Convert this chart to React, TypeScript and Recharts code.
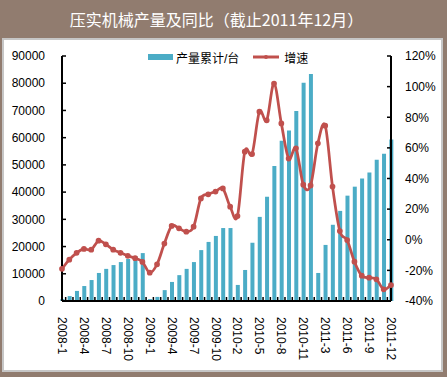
import { ComposedChart, Bar, Line, XAxis, YAxis } from "recharts"

const FONT = "'Liberation Sans', 'Noto Sans CJK SC', sans-serif"
const BAR_COLOR = "#4BACC6"
const LINE_COLOR = "#C0504D"

// 2010-1 and 2011-1 are merged into Feb in the source data
const months = [
  "2008-1", "2008-2", "2008-3", "2008-4", "2008-5", "2008-6", "2008-7", "2008-8", "2008-9", "2008-10", "2008-11", "2008-12",
  "2009-1", "2009-2", "2009-3", "2009-4", "2009-5", "2009-6", "2009-7", "2009-8", "2009-9", "2009-10", "2009-11", "2009-12",
  "2010-2", "2010-3", "2010-4", "2010-5", "2010-6", "2010-7", "2010-8", "2010-9", "2010-10", "2010-11", "2010-12",
  "2011-2", "2011-3", "2011-4", "2011-5", "2011-6", "2011-7", "2011-8", "2011-9", "2011-10", "2011-11", "2011-12",
]

// 产量累计/台
const output = [
  700, 1800, 3700, 5500, 7700, 10300, 11800, 13200, 14300, 15400, 16500, 17600,
  700, 1500, 4000, 7000, 9500, 11800, 14300, 18700, 21700, 23900, 26800, 26800,
  5900, 11400, 21400, 30900, 38300, 49600, 58900, 62600, 69800, 80200, 83400,
  10300, 20600, 28000, 33100, 38700, 42000, 45000, 47200, 51900, 54100, 59300,
]

// 增速 (%)
const growth = [
  -19, -13, -8.5, -6, -6.5, -0.6, -3, -6.5, -8.5, -10.5, -12, -14.5,
  -21.5, -16, -2.5, 9, 7.5, 5.3, 8.5, 27, 29.7, 31.5, 33.5, 21.6,
  15.5, 57.5, 56, 83.6, 78, 102, 76, 53, 59.7, 36, 35.5,
  63, 74.5, 34.7, 5.7, -0.2, -14.3, -23.5, -24.8, -25.8, -32.4, -29.6,
]

const leftTicks = [0, 10000, 20000, 30000, 40000, 50000, 60000, 70000, 80000, 90000]
const rightTicks = [-40, -20, 0, 20, 40, 60, 80, 100, 120]

const data = months.map((month, i) => ({
  idx: i,
  month,
  output: output[i],
  growth: growth[i],
}))

// labels every 3rd month, small tick marks between the months
const xTicks: number[] = []
for (let i = 0; i < months.length; i++) {
  if (i % 3 === 0) xTicks.push(i)
  if (i < months.length - 1) xTicks.push(i + 0.5)
}

// excel style smoothed line (catmull-rom through the points)
function smoothCurve(context: any) {
  let pts: number[][] = []
  return {
    areaStart() {},
    areaEnd() {},
    lineStart() {
      pts = []
    },
    point(x: number, y: number) {
      pts.push([+x, +y])
    },
    lineEnd() {
      if (!pts.length) return
      context.moveTo(pts[0][0], pts[0][1])
      const k = 1 / 6
      for (let i = 0; i < pts.length - 1; i++) {
        const p0 = pts[Math.max(0, i - 1)]
        const p1 = pts[i]
        const p2 = pts[i + 1]
        const p3 = pts[Math.min(pts.length - 1, i + 2)]
        context.bezierCurveTo(
          p1[0] + (p2[0] - p0[0]) * k,
          p1[1] + (p2[1] - p0[1]) * k,
          p2[0] - (p3[0] - p1[0]) * k,
          p2[1] - (p3[1] - p1[1]) * k,
          p2[0],
          p2[1]
        )
      }
    },
  }
}

const X_TICK_SIZE = 6
const X_TICK_MARGIN = 10

function MonthTick({ x, y, payload }: any) {
  const v = payload.value
  if (v % 1 !== 0) {
    const axisY = y - X_TICK_SIZE - X_TICK_MARGIN
    return <line x1={x} x2={x} y1={axisY} y2={axisY - 4} stroke="#000" strokeWidth={1.5} />
  }
  return (
    <text
      x={x}
      y={y}
      transform={`rotate(90, ${x}, ${y})`}
      textAnchor="start"
      dominantBaseline="central"
      fontSize={12}
      fontFamily={FONT}
      fill="#000"
    >
      {months[v]}
    </text>
  )
}

const tickStyle = { fontSize: 12, fill: "#000", fontFamily: FONT }
const axisLineStyle = { stroke: "#000", strokeWidth: 2 }

export default function App() {
  return (
    <div
      style={{
        position: "relative",
        width: 447,
        height: 377,
        background: "#917C6F",
        fontFamily: FONT,
        overflow: "hidden",
      }}
    >
      <style>{"body{margin:0}"}</style>
      <div
        style={{
          position: "absolute",
          left: 0,
          top: 0,
          width: 447,
          height: 38,
          lineHeight: "38px",
          color: "#fff",
          fontSize: 16,
          textAlign: "center",
          paddingRight: 14,
          boxSizing: "border-box",
          fontFamily: "'Noto Sans CJK SC', sans-serif",
        }}
      >
        压实机械产量及同比（截止2011年12月）
      </div>
      <div
        style={{
          position: "absolute",
          left: 2,
          top: 38,
          width: 441,
          height: 334,
          background: "#fff",
          border: "2px solid #C6C6C6",
          boxSizing: "border-box",
        }}
      />
      <div style={{ position: "absolute", left: 0, top: 0 }}>
        <ComposedChart
          width={447}
          height={377}
          data={data}
          margin={{ top: 56, right: 6, left: 12, bottom: 16 }}
          style={{ fontFamily: FONT }}
        >
          <XAxis
            dataKey="idx"
            type="number"
            domain={[0, months.length - 1]}
            ticks={xTicks}
            interval={0}
            height={60}
            tickLine={false}
            tickSize={X_TICK_SIZE}
            tickMargin={X_TICK_MARGIN}
            tick={<MonthTick />}
            axisLine={axisLineStyle}
          />
          <YAxis
            yAxisId="left"
            domain={[0, 90000]}
            ticks={leftTicks}
            width={50}
            interval={0}
            tickSize={-4}
            tickMargin={21}
            tick={tickStyle}
            tickLine={{ stroke: "#000", strokeWidth: 1.5 }}
            axisLine={axisLineStyle}
          />
          <YAxis
            yAxisId="right"
            orientation="right"
            domain={[-40, 120]}
            ticks={rightTicks}
            width={50}
            interval={0}
            tickSize={-4}
            tickMargin={18}
            tickFormatter={(v: number) => `${v}%`}
            tick={{ ...tickStyle, textAnchor: "start" }}
            tickLine={{ stroke: "#000", strokeWidth: 1.5 }}
            axisLine={axisLineStyle}
          />
          <Bar
            yAxisId="left"
            dataKey="output"
            name="产量累计/台"
            fill={BAR_COLOR}
            barSize={4}
            isAnimationActive={false}
          />
          <Line
            yAxisId="right"
            dataKey="growth"
            name="增速"
            type={smoothCurve as any}
            stroke={LINE_COLOR}
            strokeWidth={2.75}
            dot={{ r: 1.5, fill: LINE_COLOR, stroke: LINE_COLOR }}
            isAnimationActive={false}
          />
        </ComposedChart>
      </div>
      <div
        style={{
          position: "absolute",
          left: 148,
          top: 49,
          height: 16,
          display: "flex",
          alignItems: "center",
          fontSize: 12,
          color: "#000",
          whiteSpace: "nowrap",
        }}
      >
        <span style={{ display: "inline-block", width: 25, height: 6, background: BAR_COLOR }} />
        <span style={{ marginLeft: 3 }}>产量累计/台</span>
        <svg width={26} height={8} style={{ marginLeft: 14 }}>
          <line x1={0} y1={4} x2={26} y2={4} stroke={LINE_COLOR} strokeWidth={3} />
          <circle cx={13} cy={4} r={2} fill={LINE_COLOR} />
        </svg>
        <span style={{ marginLeft: 5 }}>增速</span>
      </div>
    </div>
  )
}
